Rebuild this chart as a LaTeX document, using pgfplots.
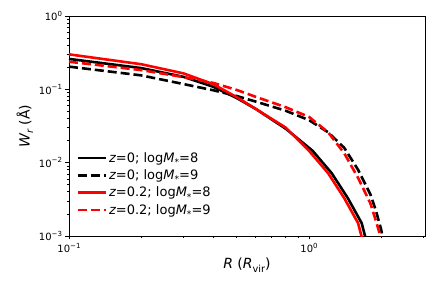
\documentclass[border=0pt]{standalone}
\usepackage{pgfplots}
\pgfplotsset{compat=1.18}
\usepackage{fontspec}
\setmainfont{DejaVu Sans}
\newcommand{\sub}[1]{\raisebox{-0.25em}{\scalebox{0.7}{#1}}}
\newcommand{\sups}[1]{\raisebox{0.45em}{\scalebox{0.7}{#1}}}
\begin{document}
\begin{tikzpicture}
\useasboundingbox (0,0) rectangle (436bp,291bp);
\begin{axis}[
 at={(69bp,55bp)}, anchor=south west,
 scale only axis, width=356bp, height=220bp,
 xmode=log, ymode=log,
 xmin=0.1, xmax=3.04, ymin=1e-3, ymax=1,
 axis line style={black, line width=0.8bp},
 tick align=outside, tick pos=left,
 major tick length=3.5bp, minor tick length=2bp,
 every tick/.style={black, line width=0.8bp},
 xtick={0.1,1}, xticklabels={10\sups{−1},10\sups{0}},
 minor xtick={0.2,0.3,0.4,0.5,0.6,0.7,0.8,0.9,2,3},
 ytick={0.001,0.01,0.1,1}, yticklabels={10\sups{−3},10\sups{−2},10\sups{−1},10\sups{0}},
 minor ytick={0.002,0.003,0.004,0.005,0.006,0.007,0.008,0.009,0.02,0.03,0.04,0.05,0.06,0.07,0.08,0.09,0.2,0.3,0.4,0.5,0.6,0.7,0.8,0.9},
 ticklabel style={font=\fontsize{10bp}{12bp}\selectfont},
 xlabel={{\itshape R} ({\itshape R}\sub{vir})},
 ylabel={{\itshape W}\sub{\itshape r} (Å)},
 label style={font=\fontsize{14bp}{16bp}\selectfont},
 xlabel style={at={(axis description cs:0.5,-0.132)}, anchor=center},
 ylabel style={at={(axis description cs:-0.124,0.5)}, anchor=center},
 legend style={draw=none, fill=none, at={(axis description cs:0.012,0.40)}, anchor=north west,
   font=\fontsize{13bp}{15bp}\selectfont, row sep=2bp},
 legend cell align=left,
 legend image code/.code={\draw[#1] (0bp,0bp) -- (28bp,0bp);},
 every axis plot/.append style={line width=2.6bp},
]
\addplot[black, solid] coordinates {(0.1,0.26) (0.2,0.195) (0.3,0.148) (0.4,0.108) (0.5,0.076) (0.6,0.054) (0.8,0.029) (1.035,0.0145) (1.242,0.0072) (1.449,0.0033) (1.656,0.0015) (1.76,0.0007)};
\addlegendentry{{\itshape z}=0; log{\itshape M}\sub{*}=8}
\addplot[black, dash pattern=on 9bp off 4bp] coordinates {(0.1,0.204) (0.2,0.155) (0.3,0.118) (0.4,0.097) (0.5,0.081) (0.6,0.068) (0.8,0.051) (1.0,0.038) (1.2,0.026) (1.4,0.016) (1.6,0.008) (1.8,0.0037) (1.9,0.0022) (2.0,0.0012) (2.05,0.0007)};
\addlegendentry{{\itshape z}=0; log{\itshape M}\sub{*}=9}
\addplot[red, solid] coordinates {(0.1,0.30) (0.2,0.22) (0.3,0.165) (0.4,0.117) (0.5,0.078) (0.6,0.054) (0.8,0.030) (1.0,0.0145) (1.2,0.0072) (1.4,0.0033) (1.6,0.0015) (1.7,0.0007)};
\addlegendentry{{\itshape z}=0.2; log{\itshape M}\sub{*}=8}
\addplot[red, dash pattern=on 9bp off 4bp] coordinates {(0.1,0.238) (0.2,0.183) (0.3,0.147) (0.4,0.122) (0.5,0.098) (0.6,0.079) (0.8,0.057) (1.0,0.042) (1.2,0.026) (1.4,0.0135) (1.6,0.0062) (1.8,0.0028) (1.9,0.0016) (2.0,0.0009) (2.02,0.0006)};
\addlegendentry{{\itshape z}=0.2; log{\itshape M}\sub{*}=9}
\end{axis}
\end{tikzpicture}
\end{document}
